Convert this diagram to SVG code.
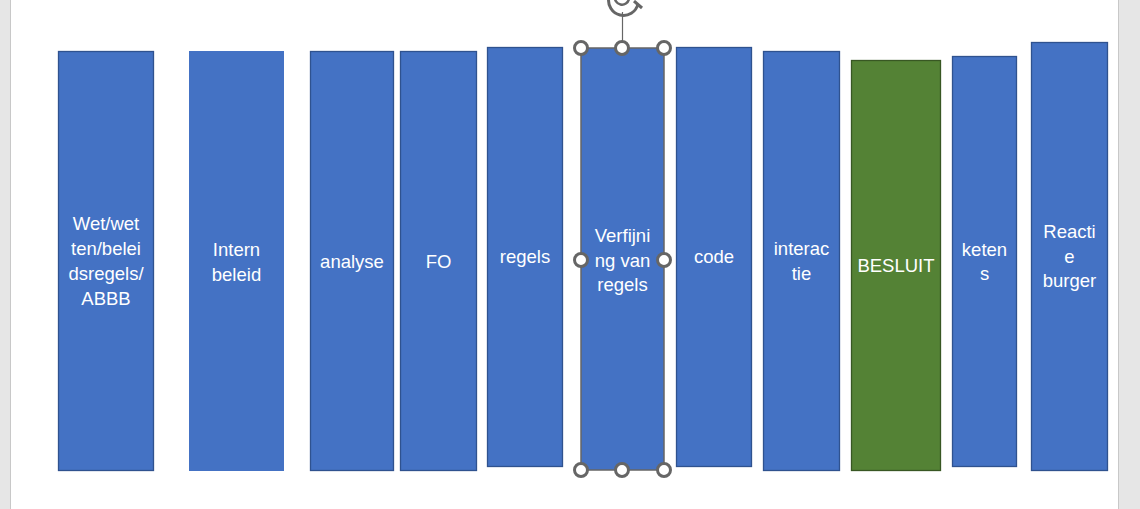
<svg xmlns="http://www.w3.org/2000/svg" width="1140" height="509" viewBox="0 0 1140 509">
<style>
.b{fill:#4472C4;stroke:#2F528F;stroke-width:1.3}
.g{fill:#548235;stroke:#385723;stroke-width:1.3}
.sel{fill:#4472C4;stroke:#666;stroke-width:1.5}
text{font-family:"Liberation Sans",Arial,sans-serif;font-size:18.5px;fill:#fff;text-anchor:middle}
.h{fill:#fff;stroke:#666;stroke-width:3}
</style>
<rect x="0" y="0" width="1140" height="509" fill="#fff"/>
<rect x="0" y="0" width="10" height="509" fill="#e6e6e6"/>
<line x1="10.5" y1="0" x2="10.5" y2="509" stroke="#c8c8c8" stroke-width="1"/>
<rect x="1118" y="0" width="22" height="509" fill="#e6e6e6"/>
<line x1="1118.5" y1="0" x2="1118.5" y2="509" stroke="#c8c8c8" stroke-width="1"/>
<g id="n1"><rect class="b" x="58.5" y="51.5" width="95" height="419"/><text x="106" y="230">Wet/wet</text><text x="106" y="255">ten/belei</text><text x="106" y="280">dsregels/</text><text x="106" y="305">ABBB</text></g>
<g id="n2"><rect fill="#4472C4" x="189" y="51" width="95" height="420"/><text x="236.5" y="256">Intern</text><text x="236.5" y="281">beleid</text></g>
<g id="n3"><rect class="b" x="310.5" y="51.5" width="83" height="419"/><text x="352" y="268">analyse</text></g>
<g id="n4"><rect class="b" x="400.5" y="51.5" width="76" height="419"/><text x="438.5" y="268">FO</text></g>
<g id="n5"><rect class="b" x="487.5" y="47.5" width="75" height="419"/><text x="525" y="263">regels</text></g>
<g id="n6"><rect class="sel" x="581" y="48" width="83" height="422"/><text x="622.5" y="242">Verfijni</text><text x="622.5" y="267">ng van</text><text x="622.5" y="291">regels</text></g>
<g id="n7"><rect class="b" x="676.5" y="47.5" width="75" height="419"/><text x="714" y="263">code</text></g>
<g id="n8"><rect class="b" x="763.5" y="51.5" width="76" height="419"/><text x="801.5" y="255">interac</text><text x="801.5" y="280">tie</text></g>
<g id="n9"><rect class="g" x="851.5" y="60.5" width="89" height="410"/><text x="896" y="272">BESLUIT</text></g>
<g id="n10"><rect class="b" x="952.5" y="56.5" width="64" height="410"/><text x="984.5" y="256">keten</text><text x="984.5" y="280">s</text></g>
<g id="n11"><rect class="b" x="1031.5" y="42.5" width="76" height="428"/><text x="1069.5" y="238">Reacti</text><text x="1069.5" y="263">e</text><text x="1069.5" y="287">burger</text></g>
<g id="selection">
<line x1="622.5" y1="12" x2="622.5" y2="48" stroke="#666" stroke-width="1.2"/>
<path d="M 609 -3 A 13 13 0 0 0 638 4" fill="none" stroke="#666" stroke-width="3"/>
<path d="M 615 -4 A 7 7 0 0 0 629 -1" fill="none" stroke="#666" stroke-width="2.5"/>
<path d="M 634 1 L 642 8" fill="none" stroke="#666" stroke-width="3"/>
<circle class="h" cx="581" cy="48" r="6.5"/><circle class="h" cx="622" cy="48" r="6.5"/><circle class="h" cx="664" cy="48" r="6.5"/>
<circle class="h" cx="581" cy="260" r="6.5"/><circle class="h" cx="664" cy="260" r="6.5"/>
<circle class="h" cx="581" cy="470" r="6.5"/><circle class="h" cx="622" cy="470" r="6.5"/><circle class="h" cx="664" cy="470" r="6.5"/>
</g>
<g id="connectors"></g>
</svg>
